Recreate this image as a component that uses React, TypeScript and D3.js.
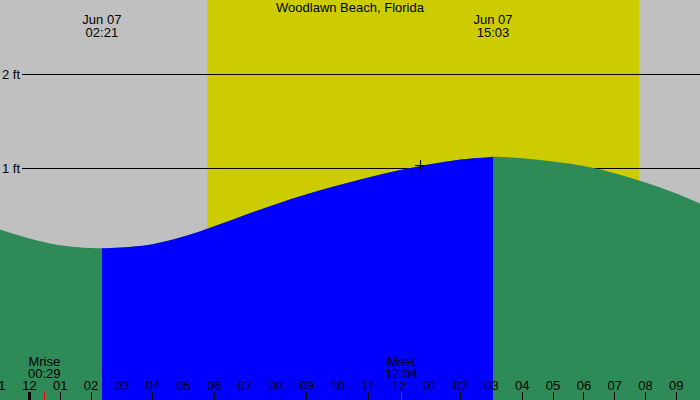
import React from "react";
import * as d3 from "d3";

// hours after midnight Jun 07 and tide height in feet
const tideHours = [-1, 0, 1, 2, 2.35, 3, 4, 5, 6, 7, 8, 9, 10, 11, 12, 13, 14, 15, 15.05, 16, 17, 18, 19, 20, 21, 22];
const tideFeet = [0.35, 0.25, 0.178, 0.148, 0.146, 0.155, 0.19, 0.27, 0.38, 0.5, 0.615, 0.72, 0.815, 0.9, 0.975, 1.04, 1.09, 1.118, 1.12, 1.105, 1.07, 1.02, 0.945, 0.845, 0.73, 0.59];

const lowHour = 2.35;
const highHour = 15.05;
const extremeLabels = [
  { hour: lowHour, date: "Jun 07", time: "02:21" },
  { hour: highHour, date: "Jun 07", time: "15:03" },
];

const sunrise = 5.77;
const sunset = 19.79;

const moonEvents = [
  { hour: 0.48, name: "Mrise", time: "00:29" },
  { hour: 12.07, name: "Mset", time: "12:04" },
];

const hourTicks = d3.range(-1, 22);
const feetTicks = [0, 1, 2];

const nowHour = 12.68;
const nowFeet = 1.03;

const title = "Woodlawn Beach, Florida";

const hourLabel = (h: number) => {
  const v = (((h + 11) % 12) + 12) % 12 + 1;
  return v < 10 ? "0" + v : String(v);
};

const App = () => {
  const width = 700;
  const height = 400;
  const font = "'Liberation Sans', Arial, sans-serif";

  const x = d3.scaleLinear().domain([0, 24]).range([29.5, 29.5 + 24 * 30.8]);
  const y = d3.scaleLinear().domain([0, 2]).range([262, 74]);

  const points = tideHours.map((h, i) => [h, tideFeet[i]] as [number, number]);
  const area = d3
    .area<[number, number]>()
    .x((d) => x(d[0]))
    .y0(height)
    .y1((d) => y(d[1]))
    .curve(d3.curveCatmullRom.alpha(0.5));
  const path = area(points) || "";

  return (
    <svg
      width={width}
      height={height}
      style={{ position: "absolute", left: 0, top: 0, display: "block" }}
      fontFamily={font}
      fontSize={13}
    >
      <defs>
        <clipPath id="rising">
          <rect x={x(lowHour)} y={0} width={x(highHour) - x(lowHour)} height={height} />
        </clipPath>
      </defs>
      <rect x={0} y={0} width={width} height={height} fill="#c0c0c0" />
      <rect x={x(sunrise)} y={0} width={x(sunset) - x(sunrise)} height={height} fill="#cccc00" />

      {feetTicks.map((f) => (
        <g key={f}>
          <line x1={22} x2={width} y1={y(f) + 0.5} y2={y(f) + 0.5} stroke="#000" strokeWidth={1} shapeRendering="crispEdges" />
          <text x={2} y={y(f)} dy="0.36em">{f} ft</text>
        </g>
      ))}

      <path d={path} fill="#2e8b57" />
      <path d={path} fill="#0000ff" clipPath="url(#rising)" />

      <g stroke="#000" strokeWidth={1} shapeRendering="crispEdges">
        <line x1={x(nowHour) - 5} x2={x(nowHour) + 5} y1={y(nowFeet)} y2={y(nowFeet)} />
        <line x1={x(nowHour)} x2={x(nowHour)} y1={y(nowFeet) - 5} y2={y(nowFeet) + 5} />
      </g>

      <text x={350} y={12} textAnchor="middle">{title}</text>
      {extremeLabels.map((e) => (
        <g key={e.time}>
          <text x={x(e.hour)} y={24} textAnchor="middle">{e.date}</text>
          <text x={x(e.hour)} y={37} textAnchor="middle">{e.time}</text>
        </g>
      ))}

      {hourTicks.map((h) => (
        <g key={h}>
          <line
            x1={x(h)}
            x2={x(h)}
            y1={392}
            y2={height}
            stroke="#000"
            strokeWidth={h === 0 ? 3 : 1}
            shapeRendering="crispEdges"
          />
          <text x={x(h)} y={390} textAnchor="middle">{hourLabel(h)}</text>
        </g>
      ))}

      {moonEvents.map((m) => (
        <g key={m.name}>
          <line x1={x(m.hour)} x2={x(m.hour)} y1={392} y2={height} stroke="#ff0000" strokeWidth={1} shapeRendering="crispEdges" />
          <text x={x(m.hour)} y={366} textAnchor="middle">{m.name}</text>
          <text x={x(m.hour)} y={378} textAnchor="middle">{m.time}</text>
        </g>
      ))}
    </svg>
  );
};

export default App;
